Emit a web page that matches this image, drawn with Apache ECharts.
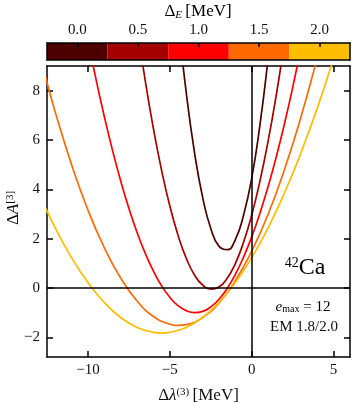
<!DOCTYPE html>
<html>
<head>
<meta charset="utf-8">
<script src="https://cdn.jsdelivr.net/npm/echarts@6/dist/echarts.min.js"></script>
<style>
	html, body { margin: 0; padding: 0; background: #fff; }
	#chart { width: 354px; height: 403px; }
</style>
</head>
<body>
<div id="chart"></div>
<script>
// colour bar categories (Delta_E in MeV), one curve each
var deltaE = ['0.0', '0.5', '1.0', '1.5', '2.0'];
var xTicks = [-10, -5, 0, 5];
var yTicks = [-2, 0, 2, 4, 6, 8];

// Delta A^[3] against Delta lambda^(3)
var curveE00 = [[-4.5, 10.9], [-4, 7.93], [-3.5, 5.52], [-3, 3.68], [-2.5, 2.41], [-2, 1.69], [-1.5, 1.55],
	[-1, 1.96], [-0.5, 2.95], [0, 4.45], [0.5, 6.6], [1, 9.3], [1.5, 12.4]];
var curveE05 = [[-7, 10.6], [-6.5, 8.4], [-6, 6.45], [-5.5, 4.76], [-5, 3.32], [-4.5, 2.14], [-4, 1.21],
	[-3.5, 0.53], [-3, 0.12], [-2.5, -0.05], [-2, 0.04], [-1.5, 0.39], [-1, 0.99], [-0.5, 1.85], [0, 2.96],
	[0.5, 4.33], [1, 5.95], [1.5, 7.83], [2, 9.96]];
var curveE10 = [[-10, 10.07], [-9.5, 8.44], [-9, 6.95], [-8.5, 5.58], [-8, 4.34], [-7.5, 3.23], [-7, 2.25],
	[-6.5, 1.4], [-6, 0.68], [-5.5, 0.08], [-5, -0.38], [-4.5, -0.72], [-4, -0.92], [-3.5, -1.0], [-3, -0.95],
	[-2.5, -0.77], [-2, -0.46], [-1.5, -0.02], [-1, 0.55], [-0.5, 1.25], [0, 2.07], [0.5, 3.03], [1, 4.11],
	[1.5, 5.32], [2, 6.66], [2.5, 8.13], [3, 9.73]];
var curveE15 = [[-13, 9.59], [-12.5, 8.33], [-12, 7.14], [-11, 5.0], [-10, 3.16], [-9, 1.63], [-8, 0.4],
	[-7, -0.53], [-6, -1.155], [-5, -1.47], [-4.5, -1.52], [-4, -1.49], [-3, -1.2], [-2, -0.61], [-1, 0.29],
	[0, 1.49], [1, 2.99], [2, 4.8], [3, 6.92], [4, 9.33]];
var curveE20 = [[-13, 3.85], [-12, 2.44], [-11, 1.23], [-10, 0.22], [-9, -0.59], [-8, -1.2], [-7, -1.6],
	[-6, -1.8], [-5.5, -1.83], [-5, -1.8], [-4, -1.6], [-3, -1.2], [-2, -0.59], [-1, 0.22], [0, 1.23],
	[1, 2.44], [2, 3.85], [3, 5.47], [4, 7.29], [5, 9.31]];

var curves = [curveE00, curveE05, curveE10, curveE15, curveE20];
var curveColors = ['#4c0000', '#a50000', '#ff0000', '#ff6a00', '#ffbd00'];

var FONT = 'Liberation Serif';
var TXT = '#111';

var rich = {
	n: { fontFamily: FONT, fontSize: 17, color: TXT },
	i: { fontFamily: FONT, fontSize: 17, fontStyle: 'italic', color: TXT },
	sup: { fontFamily: FONT, fontSize: 11, color: TXT, verticalAlign: 'top', padding: [0, 0, 7, 0] },
	sub: { fontFamily: FONT, fontSize: 11, fontStyle: 'italic', color: TXT, verticalAlign: 'bottom', padding: [6, 0, 0, 0] }
};

function minusFmt(v) {
	return v < 0 ? '\u2212' + Math.abs(v) : String(v);
}

function frameLine() {
	return { show: true, onZero: false, lineStyle: { color: '#000', width: 1.5 } };
}

function mainX(pos, withLabels) {
	return {
		gridIndex: 0, type: 'value', position: pos, min: -12.5, max: 6,
		axisLine: frameLine(),
		axisTick: { show: true, inside: true, length: 6, customValues: xTicks, lineStyle: { color: '#000', width: 1.5 } },
		axisLabel: { show: withLabels, customValues: xTicks, formatter: minusFmt, fontFamily: FONT, fontSize: 15, color: TXT, margin: 6 },
		splitLine: { show: false }
	};
}

function mainY(pos, withLabels) {
	return {
		gridIndex: 0, type: 'value', position: pos, min: -2.8, max: 9,
		axisLine: frameLine(),
		axisTick: { show: true, inside: true, length: 6, customValues: yTicks, lineStyle: { color: '#000', width: 1.5 } },
		axisLabel: { show: withLabels, customValues: yTicks, formatter: minusFmt, fontFamily: FONT, fontSize: 15, color: TXT, margin: 7 },
		splitLine: { show: false }
	};
}

var xBottom = mainX('bottom', true);
xBottom.name = '{n|\u0394}{i|\u03bb}{sup|(3)} {n|[MeV]}';
xBottom.nameLocation = 'middle';
xBottom.nameGap = 30;
xBottom.nameTextStyle = { rich: rich };

var series = curves.map(function (c, i) {
	return {
		type: 'line', xAxisIndex: 0, yAxisIndex: 0, data: c,
		showSymbol: false, smooth: true, clip: true,
		lineStyle: { color: curveColors[i], width: 1.7 },
		z: 3
	};
});

series[0].markLine = {
	silent: true, symbol: ['none', 'none'], label: { show: false },
	lineStyle: { color: '#000', width: 1.5, type: 'solid' },
	data: [{ xAxis: 0 }, { yAxis: 0 }]
};

// colour bar
series.push({
	type: 'bar', xAxisIndex: 2, yAxisIndex: 2, barWidth: '100%', silent: true, z: 1,
	data: deltaE.map(function (d, i) { return { value: 1, itemStyle: { color: curveColors[i] } }; })
});

var chart = echarts.init(document.getElementById('chart'), null, { renderer: 'canvas' });
chart.setOption({
	animation: false,
	backgroundColor: '#fff',
	grid: [
		{ left: 47, right: 4, top: 66, bottom: 46, containLabel: false, outerBoundsMode: 'none' },
		{ left: 47, right: 4, top: 43, height: 17, containLabel: false, outerBoundsMode: 'none' }
	],
	xAxis: [
		xBottom,
		mainX('top', false),
		{
			gridIndex: 1, type: 'category', position: 'top', data: deltaE, z: 10,
			axisLine: frameLine(),
			axisTick: { show: true, inside: true, alignWithLabel: true, length: 4, lineStyle: { color: '#000', width: 1.5 } },
			axisLabel: { fontFamily: FONT, fontSize: 15, color: TXT, margin: 5 },
			splitLine: { show: false }
		},
		{
			gridIndex: 1, type: 'category', position: 'bottom', data: deltaE, z: 10,
			axisLine: frameLine(), axisTick: { show: false }, axisLabel: { show: false }, splitLine: { show: false }
		}
	],
	yAxis: [
		mainY('left', true),
		mainY('right', false),
		{
			gridIndex: 1, type: 'value', position: 'left', min: 0, max: 1, z: 10,
			axisLine: frameLine(), axisTick: { show: false }, axisLabel: { show: false }, splitLine: { show: false }
		},
		{
			gridIndex: 1, type: 'value', position: 'right', min: 0, max: 1, z: 10,
			axisLine: frameLine(), axisTick: { show: false }, axisLabel: { show: false }, splitLine: { show: false }
		}
	],
	graphic: [
		{
			type: 'text', x: 198, y: 12, z: 20,
			style: { text: '{n|\u0394}{sub|E} {n|[MeV]}', rich: rich, align: 'center', verticalAlign: 'middle' }
		},
		{
			type: 'text', x: 14, y: 208, rotation: Math.PI / 2, z: 20,
			style: { text: '{n|\u0394}{i|A}{sup|[3]}', rich: rich, align: 'center', verticalAlign: 'middle' }
		},
		{
			type: 'text', x: 305, y: 268, z: 20,
			style: {
				text: '{s|42}{c|Ca}', align: 'center', verticalAlign: 'middle',
				rich: {
					s: { fontFamily: FONT, fontSize: 14, color: TXT, verticalAlign: 'top', padding: [0, 0, 9, 0] },
					c: { fontFamily: FONT, fontSize: 24, color: TXT }
				}
			}
		},
		{
			type: 'text', x: 303, y: 307, z: 20,
			style: {
				text: '{i|e}{b|max}{n| = 12}', align: 'center', verticalAlign: 'middle',
				rich: {
					i: { fontFamily: FONT, fontSize: 15, fontStyle: 'italic', color: TXT },
					b: { fontFamily: FONT, fontSize: 10, color: TXT, verticalAlign: 'bottom', padding: [4, 0, 0, 0] },
					n: { fontFamily: FONT, fontSize: 15, color: TXT }
				}
			}
		},
		{
			type: 'text', x: 304, y: 327, z: 20,
			style: { text: 'EM 1.8/2.0', fontFamily: FONT, fontSize: 15, fill: TXT, align: 'center', verticalAlign: 'middle' }
		}
	],
	series: series
});
</script>
</body>
</html>
